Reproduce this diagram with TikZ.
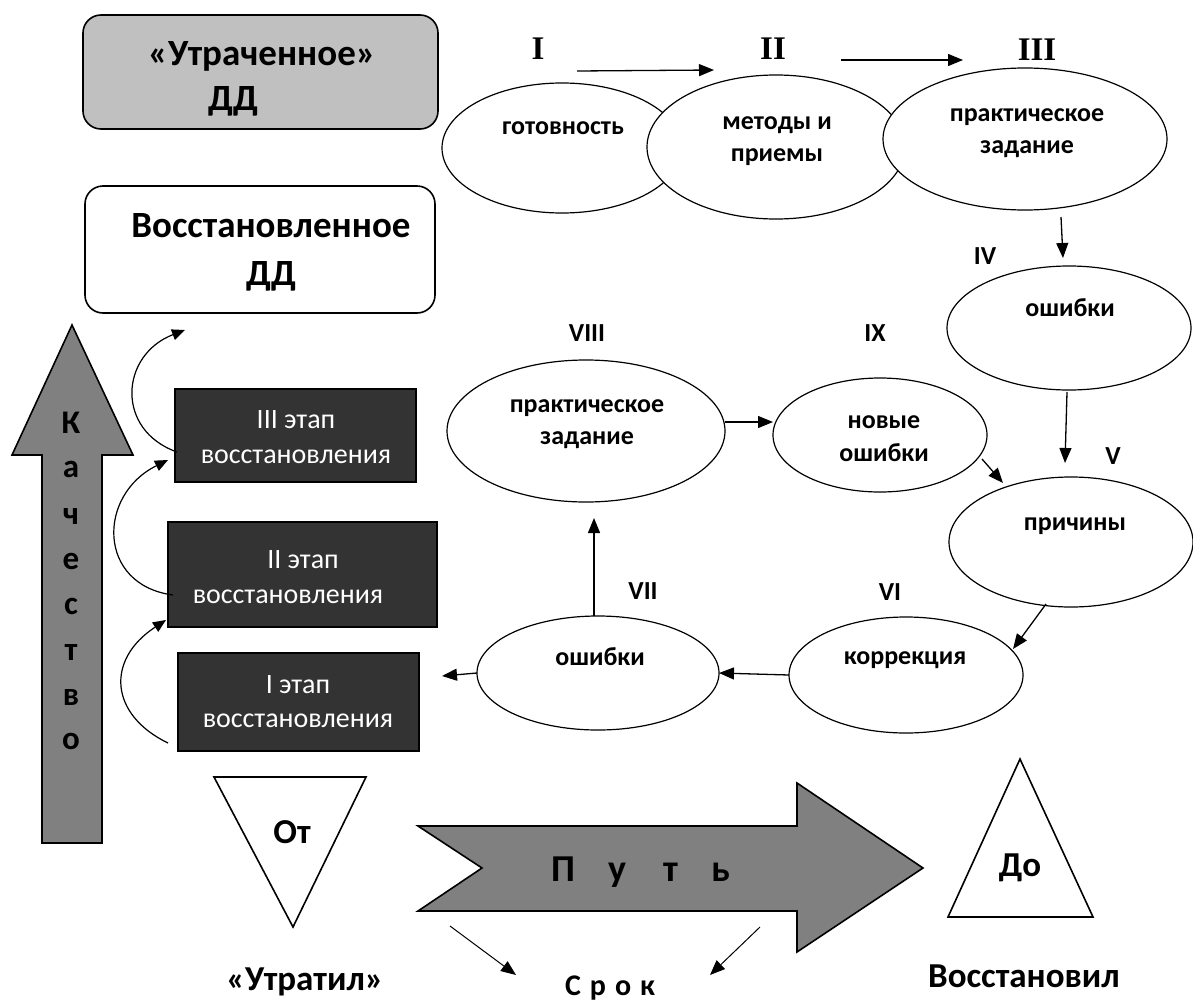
\documentclass[tikz,border=0pt]{standalone}
\usepackage{fontspec}
\setmainfont{Carlito}
\newfontfamily\timesf{Liberation Serif}
\usetikzlibrary{arrows.meta,shapes.geometric}
\definecolor{boxgray}{HTML}{C0C0C0}
\definecolor{arrgray}{HTML}{808080}
\definecolor{stagefill}{HTML}{333333}
\tikzset{
  rbox/.style={draw, line width=1.6pt, rounded corners=18pt, inner sep=0pt, outer sep=0pt},
  ell/.style={draw, ellipse, fill=white, line width=1.2pt, inner sep=0pt, outer sep=0pt},
  stagebox/.style={draw, fill=stagefill, line width=1.2pt, inner sep=0pt, outer sep=0pt},
  headtxt/.style={font=\bfseries\fontsize{37}{42}\selectfont, anchor=base, inner sep=0pt},
  elab/.style={font=\bfseries\fontsize{26}{30}\selectfont, anchor=base, inner sep=0pt},
  rnum/.style={font=\bfseries\fontsize{26}{30}\selectfont, anchor=base, inner sep=0pt},
  tnum/.style={font=\timesf\bfseries\fontsize{33}{38}\selectfont, anchor=base, inner sep=0pt},
  stext/.style={font=\fontsize{28}{32}\selectfont, text=white, anchor=base, inner sep=0pt},
  bigtxt/.style={font=\bfseries\fontsize{33}{36}\selectfont, anchor=base, inner sep=0pt},
  bottxt/.style={font=\bfseries\fontsize{35}{40}\selectfont, anchor=base, inner sep=0pt},
  arr/.style={line width=1.3pt, -{Triangle[length=15pt,width=12pt]}},
  thinarr/.style={line width=1pt, -{Triangle[length=15pt,width=12pt]}},
  curv/.style={line width=1.2pt, -{Triangle[length=13pt,width=11pt]}},
  shp/.style={draw, line width=1.6pt, line join=miter},
}
\begin{document}
\begin{tikzpicture}[x=1pt,y=-1pt]
\useasboundingbox (0,0) rectangle (1193,1001);

% top-left boxes
\node[rbox, fill=boxgray, minimum width=355pt, minimum height=114pt] (lost) at (260.5,72) {};
\node[headtxt] (lostA) at (262,65) {«Утраченное»};
\node[headtxt] (lostB) at (233,110) {ДД};
\node[rbox, fill=white, minimum width=350pt, minimum height=127pt] (rest) at (260,249.5) {};
\node[headtxt] (restA) at (271,237) {Восстановленное};
\node[headtxt] (restB) at (271,285) {ДД};

% quality arrow
\draw[shp, fill=arrgray] (72,325) -- (133,455) -- (102,455) -- (102,843) -- (42,843) -- (42,455) -- (12,455) -- cycle;
\foreach \l/\yy [count=\i] in {К/433,а/477.5,ч/524.5,е/569.5,с/614.5,т/660.5,в/705.5,о/749.5}
  \node[bigtxt] (q\i) at (71,\yy) {\l};

% stage boxes
\node[stagebox, minimum width=241pt, minimum height=93pt] (s3) at (295.5,435.5) {};
\node[stext] (s3a) at (296,428) {III этап};
\node[stext] (s3b) at (296,463) {восстановления};
\node[stagebox, minimum width=269pt, minimum height=105pt] (s2) at (302.5,574.5) {};
\node[stext] (s2a) at (303,568) {II этап};
\node[stext] (s2b) at (288,603) {восстановления};
\node[stagebox, minimum width=241pt, minimum height=98pt] (s1) at (298.5,702) {};
\node[stext] (s1a) at (298,693) {I этап};
\node[stext] (s1b) at (298,727) {восстановления};

% curved arrows
\coordinate (c1s) at (168,743); \coordinate (c1e) at (166,620);
\coordinate (c2s) at (173,595); \coordinate (c2e) at (168,460);
\coordinate (c3s) at (177,452); \coordinate (c3e) at (185,330);
\draw[curv] (c1s) .. controls (110,715) and (105,660) .. (c1e);
\draw[curv] (c2s) .. controls (97,585) and (97,495) .. (c2e);
\draw[curv] (c3s) .. controls (115,430) and (120,355) .. (c3e);

% top ellipses
\node[ell, minimum width=240pt, minimum height=130pt] (e1) at (562,148) {};
\node[ell, minimum width=258pt, minimum height=144pt] (e2) at (776,147) {};
\node[ell, minimum width=284pt, minimum height=142pt] (e3) at (1025,139) {};
\node[elab] (e1t) at (563,134) {готовность};
\node[elab] (e2t) at (777,129) {методы и};
\node[elab] (e2u) at (777,161) {приемы};
\node[elab] (e3t) at (1027,121) {практическое};
\node[elab] (e3u) at (1027,153) {задание};
\node[tnum] (n1) at (538,59) {I};
\node[tnum] (n2) at (773,59) {II};
\node[tnum] (n3) at (1037,60) {III};
\coordinate (a1s) at (577,71); \coordinate (a1e) at (714,70);
\coordinate (a2s) at (841,60); \coordinate (a2e) at (963,60);
\draw[arr] (a1s) -- (a1e);
\draw[arr] (a2s) -- (a2e);

% cycle ellipses
\node[ell, minimum width=244pt, minimum height=124pt] (e4) at (1069,328) {};
\node[ell, minimum width=244pt, minimum height=130pt] (e5) at (1071,542) {};
\node[ell, minimum width=234pt, minimum height=116pt] (e6) at (906,675) {};
\node[ell, minimum width=242pt, minimum height=114pt] (e7) at (598,673) {};
\node[ell, minimum width=278pt, minimum height=142pt] (e8) at (586,431) {};
\node[ell, minimum width=214pt, minimum height=114pt] (e9) at (880,435) {};
\node[elab] (e4t) at (1070,316) {ошибки};
\node[elab] (e5t) at (1075,530) {причины};
\node[elab] (e6t) at (905,664) {коррекция};
\node[elab] (e7t) at (600,665) {ошибки};
\node[elab] (e8t) at (587,412) {практическое};
\node[elab] (e8u) at (587,444) {задание};
\node[elab] (e9t) at (884,428) {новые};
\node[elab] (e9u) at (884,461) {ошибки};
\node[rnum] (n4) at (985,264) {IV};
\node[rnum] (n5) at (1113,464) {V};
\node[rnum] (n6) at (890,600) {VI};
\node[rnum] (n7) at (643,599) {VII};
\node[rnum] (n8) at (587,341) {VIII};
\node[rnum] (n9) at (875,341) {IX};

\coordinate (a3s) at (1061,217); \coordinate (a3e) at (1063,258);
\coordinate (a4s) at (1067,392); \coordinate (a4e) at (1065,463);
\coordinate (a5s) at (982,459);  \coordinate (a5e) at (1003,483);
\coordinate (a6s) at (1046,604); \coordinate (a6e) at (1013,649);
\coordinate (a8e) at (442,676);
\coordinate (a9e) at (594,518);
\coordinate (a10s) at (725,422); \coordinate (a10e) at (773,422);
\draw[arr] (a3s) -- (a3e);
\draw[arr] (a4s) -- (a4e);
\draw[arr] (a5s) -- (a5e);
\draw[arr] (a6s) -- (a6e);
\draw[arr] (e6.west) -- (e7.east);
\draw[arr] (e7.west) -- (a8e);
\draw[arr] (594,616) -- (a9e);
\draw[arr] (a10s) -- (a10e);

% bottom
\draw[shp, fill=white] (214,777) -- (366,777) -- (293,927) -- cycle;
\node[bottxt] (ot) at (292,843) {От};
\draw[shp, fill=arrgray] (418,826) -- (797,826) -- (797,783) -- (923,868) -- (797,952) -- (797,911) -- (418,911) -- (482,868) -- cycle;
\node[font=\bfseries\fontsize{38}{44}\selectfont, anchor=base, inner sep=0pt] (put) at (641,881) {П\hspace{33pt}у\hspace{37pt}т\hspace{33pt}ь};
\draw[shp, fill=white] (1020,759) -- (1093,917) -- (948,917) -- cycle;
\node[bottxt] (do) at (1020,876) {До};
\node[bottxt] (utr) at (305,990) {«Утратил»};
\node[bottxt] (vos) at (1024,987) {Восстановил};
\node[font=\bfseries\fontsize{30}{34}\selectfont, anchor=base, inner sep=0pt] (srok) at (610,995) {С\hspace{9pt}р\hspace{9pt}о\hspace{9pt}к};
\coordinate (b1s) at (450,926); \coordinate (b1e) at (516,975);
\coordinate (b2s) at (760,927); \coordinate (b2e) at (710,975);
\draw[thinarr] (b1s) -- (b1e);
\draw[thinarr] (b2s) -- (b2e);
\end{tikzpicture}
\end{document}
